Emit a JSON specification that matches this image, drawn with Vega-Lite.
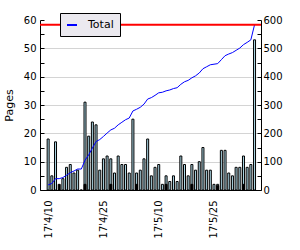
{
  "$schema": "https://vega.github.io/schema/vega-lite/v6.json",
  "width": 221,
  "height": 170,
  "autosize": {"type": "none"},
  "padding": {"left": 40, "top": 20, "right": 39, "bottom": 60},
  "background": "white",
  "config": {
    "view": {"stroke": null},
    "font": "DejaVu Sans",
    "axis": {"labelFont": "DejaVu Sans", "labelFontSize": 10, "labelColor": "black", "domainColor": "black", "tickColor": "black", "titleFont": "DejaVu Sans", "titleFontWeight": "normal", "titleFontSize": 11, "titleColor": "black"}
  },
  "data": {"values": [
    {"date": "2017-04-10", "pages": 18, "other": null, "total": 18},
    {"date": "2017-04-11", "pages": 5, "other": null, "total": 23},
    {"date": "2017-04-12", "pages": 17, "other": null, "total": 40},
    {"date": "2017-04-13", "pages": 0, "other": 2, "total": 40},
    {"date": "2017-04-14", "pages": 4, "other": null, "total": 44},
    {"date": "2017-04-15", "pages": 8, "other": null, "total": 52},
    {"date": "2017-04-16", "pages": 9, "other": null, "total": 61},
    {"date": "2017-04-17", "pages": 6, "other": null, "total": 67},
    {"date": "2017-04-18", "pages": 7, "other": null, "total": 74},
    {"date": "2017-04-19", "pages": 0, "other": null, "total": 74},
    {"date": "2017-04-20", "pages": 31, "other": 2, "total": 105},
    {"date": "2017-04-21", "pages": 19, "other": null, "total": 124},
    {"date": "2017-04-22", "pages": 24, "other": null, "total": 148},
    {"date": "2017-04-23", "pages": 23, "other": null, "total": 171},
    {"date": "2017-04-24", "pages": 7, "other": null, "total": 178},
    {"date": "2017-04-25", "pages": 11, "other": null, "total": 189},
    {"date": "2017-04-26", "pages": 12, "other": null, "total": 201},
    {"date": "2017-04-27", "pages": 11, "other": 2, "total": 212},
    {"date": "2017-04-28", "pages": 6, "other": null, "total": 218},
    {"date": "2017-04-29", "pages": 12, "other": null, "total": 230},
    {"date": "2017-04-30", "pages": 9, "other": null, "total": 239},
    {"date": "2017-05-01", "pages": 9, "other": null, "total": 248},
    {"date": "2017-05-02", "pages": 6, "other": null, "total": 254},
    {"date": "2017-05-03", "pages": 25, "other": null, "total": 279},
    {"date": "2017-05-04", "pages": 6, "other": 2, "total": 285},
    {"date": "2017-05-05", "pages": 7, "other": null, "total": 292},
    {"date": "2017-05-06", "pages": 11, "other": null, "total": 303},
    {"date": "2017-05-07", "pages": 18, "other": null, "total": 321},
    {"date": "2017-05-08", "pages": 5, "other": null, "total": 326},
    {"date": "2017-05-09", "pages": 8, "other": null, "total": 334},
    {"date": "2017-05-10", "pages": 9, "other": null, "total": 343},
    {"date": "2017-05-11", "pages": 2, "other": null, "total": 345},
    {"date": "2017-05-12", "pages": 5, "other": 2, "total": 350},
    {"date": "2017-05-13", "pages": 3, "other": null, "total": 353},
    {"date": "2017-05-14", "pages": 5, "other": null, "total": 358},
    {"date": "2017-05-15", "pages": 3, "other": null, "total": 361},
    {"date": "2017-05-16", "pages": 12, "other": null, "total": 373},
    {"date": "2017-05-17", "pages": 9, "other": null, "total": 382},
    {"date": "2017-05-18", "pages": 5, "other": null, "total": 387},
    {"date": "2017-05-19", "pages": 9, "other": 2, "total": 396},
    {"date": "2017-05-20", "pages": 7, "other": null, "total": 403},
    {"date": "2017-05-21", "pages": 10, "other": null, "total": 413},
    {"date": "2017-05-22", "pages": 15, "other": null, "total": 428},
    {"date": "2017-05-23", "pages": 7, "other": null, "total": 435},
    {"date": "2017-05-24", "pages": 7, "other": null, "total": 442},
    {"date": "2017-05-25", "pages": 2, "other": null, "total": 444},
    {"date": "2017-05-26", "pages": 2, "other": 1.5, "total": 446},
    {"date": "2017-05-27", "pages": 14, "other": null, "total": 460},
    {"date": "2017-05-28", "pages": 14, "other": null, "total": 474},
    {"date": "2017-05-29", "pages": 6, "other": null, "total": 480},
    {"date": "2017-05-30", "pages": 5, "other": null, "total": 485},
    {"date": "2017-05-31", "pages": 8, "other": null, "total": 493},
    {"date": "2017-06-01", "pages": 8, "other": null, "total": 501},
    {"date": "2017-06-02", "pages": 12, "other": 2, "total": 513},
    {"date": "2017-06-03", "pages": 8, "other": null, "total": 521},
    {"date": "2017-06-04", "pages": 9, "other": null, "total": 530},
    {"date": "2017-06-05", "pages": 53, "other": null, "total": 583}
  ]},
  "layer": [
    {
      "layer": [
        {
          "mark": {"type": "bar", "fill": "#add8e6", "stroke": "black", "strokeWidth": 1, "size": 2},
          "encoding": {
            "x": {
              "field": "date", "type": "temporal",
              "scale": {"type": "utc", "domain": [
                {"year": 2017, "month": 4, "date": 9, "hours": 3, "minutes": 30, "utc": true},
                {"year": 2017, "month": 6, "date": 5, "hours": 9, "minutes": 30, "utc": true}
              ]},
              "axis": {
                "title": null,
                "values": [
                  {"year": 2017, "month": 4, "date": 10, "utc": true},
                  {"year": 2017, "month": 4, "date": 25, "utc": true},
                  {"year": 2017, "month": 5, "date": 10, "utc": true},
                  {"year": 2017, "month": 5, "date": 25, "utc": true}
                ],
                "format": "%y'%-m/%-d",
                "labelAngle": -90,
                "ticks": false,
                "grid": false,
                "labelPadding": 10,
                "labelFlush": false,
                "labelOverlap": false
              }
            },
            "y": {
              "field": "pages", "type": "quantitative",
              "scale": {"domain": [0, 60], "nice": false},
              "axis": {
                "orient": "left",
                "title": "Pages",
                "titleX": -31,
                "titleY": 85,
                "titleBaseline": "middle",
                "values": [0, 5, 10, 15, 20, 25, 30, 35, 40, 45, 50, 55, 60],
                "labelExpr": "datum.value % 10 == 0 ? datum.label : ''",
                "labelOverlap": false,
                "tickSize": -4,
                "labelPadding": 8,
                "grid": true,
                "gridColor": "#d4d4d4",
                "gridOpacity": {"condition": {"test": "datum.value % 10 != 0 || datum.value >= 60", "value": 0}, "value": 1}
              }
            }
          }
        },
        {
          "mark": {"type": "bar", "fill": "black", "stroke": "black", "strokeWidth": 1, "size": 2},
          "encoding": {
            "x": {"field": "date", "type": "temporal"},
            "y": {
              "field": "other", "type": "quantitative",
              "axis": {
                "orient": "left",
                "title": "Pages",
                "titleX": -31,
                "titleY": 85,
                "titleBaseline": "middle",
                "values": [0, 5, 10, 15, 20, 25, 30, 35, 40, 45, 50, 55, 60],
                "labelExpr": "datum.value % 10 == 0 ? datum.label : ''",
                "labelOverlap": false,
                "tickSize": -4,
                "labelPadding": 8,
                "grid": true,
                "gridColor": "#d4d4d4",
                "gridOpacity": {"condition": {"test": "datum.value % 10 != 0 || datum.value >= 60", "value": 0}, "value": 1}
              }
            }
          }
        }
      ]
    },
    {
      "layer": [
        {
          "mark": {"type": "line", "strokeWidth": 1},
          "encoding": {
            "x": {"field": "date", "type": "temporal"},
            "y": {
              "field": "total", "type": "quantitative",
              "scale": {"domain": [0, 600], "nice": false},
              "axis": {
                "orient": "right",
                "title": null,
                "values": [0, 50, 100, 150, 200, 250, 300, 350, 400, 450, 500, 550, 600],
                "labelExpr": "datum.value % 100 == 0 ? datum.label : ''",
                "labelOverlap": false,
                "tickSize": -4,
                "labelPadding": 6,
                "grid": false
              }
            },
            "color": {
              "datum": "Total",
              "scale": {"range": ["#0000ff"]},
              "legend": {
                "title": null,
                "orient": "none",
                "legendX": 20,
                "legendY": -7,
                "fillColor": "#ebe9ef",
                "strokeColor": "black",
                "padding": 6,
                "symbolType": "stroke",
                "symbolStrokeWidth": 2,
                "symbolSize": 100,
                "labelFontSize": 11,
                "labelFont": "DejaVu Sans",
                "labelColor": "black",
                "labelOffset": 10
              }
            }
          }
        },
        {
          "mark": {"type": "rule", "color": "#ff0000", "strokeWidth": 2},
          "encoding": {
            "y": {
              "aggregate": "max", "field": "total", "type": "quantitative",
              "axis": {
                "orient": "right",
                "title": null,
                "values": [0, 50, 100, 150, 200, 250, 300, 350, 400, 450, 500, 550, 600],
                "labelExpr": "datum.value % 100 == 0 ? datum.label : ''",
                "labelOverlap": false,
                "tickSize": -4,
                "labelPadding": 6,
                "grid": false
              }
            }
          }
        }
      ]
    }
  ],
  "resolve": {"scale": {"y": "independent"}}
}
